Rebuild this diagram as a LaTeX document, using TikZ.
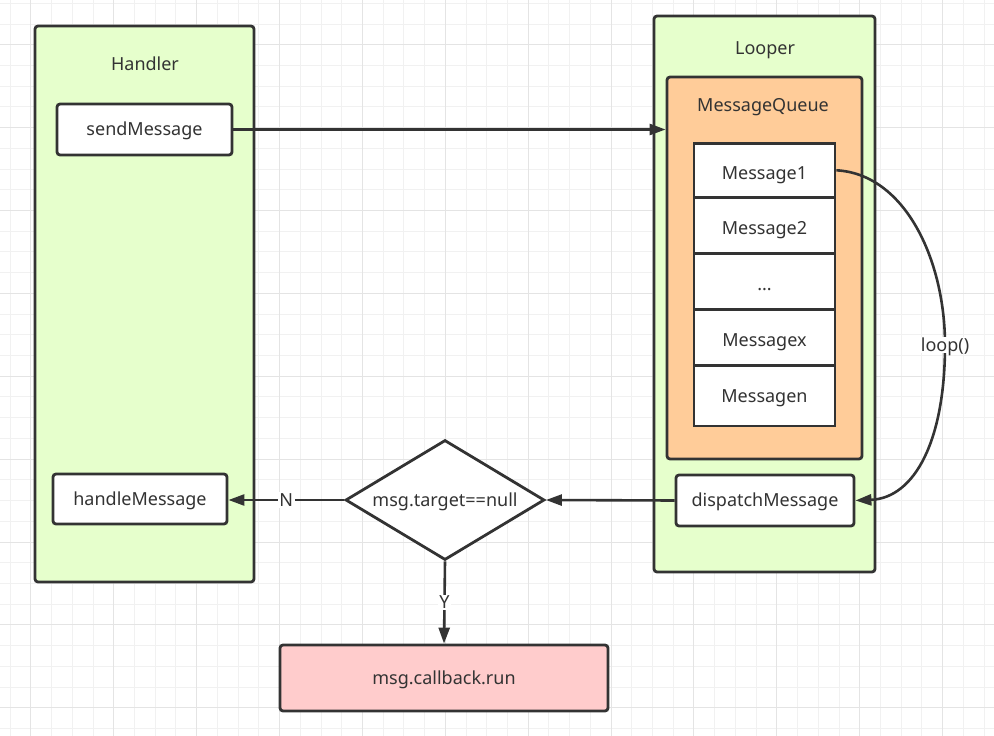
\documentclass[tikz,border=0pt]{standalone}
\usepackage{fontspec}
\setmainfont{Noto Sans}
\usetikzlibrary{arrows.meta,shapes.geometric}
\definecolor{ink}{HTML}{333333}
\definecolor{grn}{HTML}{E6FFCC}
\definecolor{org}{HTML}{FFCC99}
\definecolor{pnk}{HTML}{FFCCCC}
\definecolor{gridminor}{HTML}{F1F1F1}
\definecolor{gridmajor}{HTML}{E4E4E4}
\tikzset{
  txt/.style={text=ink, font=\fontsize{18}{22}\selectfont, text height=12.85pt, text depth=0pt},
  lbl/.style={txt, inner sep=0pt},
  box/.style={txt, draw=ink, line width=2.8pt, rounded corners=3pt, inner sep=0pt},
  cell/.style={txt, draw=ink, line width=2.8pt, fill=white, inner sep=0pt, minimum width=141pt, text height=18.8pt},
  conn/.style={draw=ink, line width=2.6pt, -{Triangle[length=16pt,width=11pt]}},
  edgelbl/.style={txt, fill=white, inner sep=1.5pt},
}
\begin{document}
\begin{tikzpicture}[x=1pt,y=-1pt]
\useasboundingbox (0,0) rectangle (994,736);
\fill[white] (0,0) rectangle (994,736);
% grid
\foreach \i in {0,...,47} \draw[gridminor, line width=1pt] ({10.2+\i*20.72},0) -- ({10.2+\i*20.72},736);
\foreach \j in {0,...,35} \draw[gridminor, line width=1pt] (0,{3.3+\j*20.72}) -- (994,{3.3+\j*20.72});
\foreach \i in {0,...,11} \draw[gridmajor, line width=1pt] ({30.92+\i*82.88},0) -- ({30.92+\i*82.88},736);
\foreach \j in {0,...,8} \draw[gridmajor, line width=1pt] (0,{44.74+\j*82.88}) -- (994,{44.74+\j*82.88});

% Handler column
\node[box, fill=grn, minimum width=219pt, minimum height=556pt] (handler) at (144.5,304) {};
\node[lbl] (handlerT) at (145,64) {Handler};
\node[box, fill=white, minimum width=175pt, minimum height=51pt] (send) at (144.5,129.5) {sendMessage};
\node[box, fill=white, minimum width=174pt, minimum height=50pt] (handle) at (140,499) {handleMessage};

% Looper column
\node[box, fill=grn, minimum width=221pt, minimum height=556pt] (looper) at (764.5,294) {};
\node[lbl] (looperT) at (765,48) {Looper};
\node[box, fill=org, minimum width=195pt, minimum height=382pt] (mq) at (764.5,268) {};
\node[lbl] (mqT) at (763,105) {MessageQueue};
\node[cell, minimum height=54pt] (m1) at (764.5,170.3) {Message1};
\node[cell, minimum height=56pt] (m2) at (764.5,225.3) {Message2};
\node[cell, minimum height=56pt] (m3) at (764.5,281.3) {...};
\node[cell, minimum height=56pt] (mx) at (764.5,337.3) {Messagex};
\node[cell, minimum height=60.7pt, text height=14.2pt] (mn) at (764.5,395.6) {Messagen};
\node[box, fill=white, minimum width=178pt, minimum height=51pt] (disp) at (765,500.5) {dispatchMessage};

% decision
\node[diamond, draw=ink, line width=2.8pt, fill=white, inner sep=0pt, minimum width=199pt, minimum height=120pt] (dia) at (445,500) {};
\node[lbl] (diaT) at (445,500) {msg.target==null};
\node[box, fill=pnk, minimum width=328pt, minimum height=66pt] (cb) at (444,678) {msg.callback.run};

% connectors
\draw[conn] (send.east) -- (send.east -| mq.west);
\draw[conn] (m1.east) .. controls (905,174) and (945,260) .. (945,345)
  node[edgelbl] (loopT) {loop()}
  .. controls (945,440) and (915,498) .. (disp.east);
\draw[conn] (disp.west) -- (dia.east);
\draw[conn] (dia.west) -- node[edgelbl] (nT) {N} (dia.west -| handle.east);
\draw[conn] (dia.south) -- node[edgelbl] (yT) {Y} (cb.north);
\end{tikzpicture}
\end{document}
